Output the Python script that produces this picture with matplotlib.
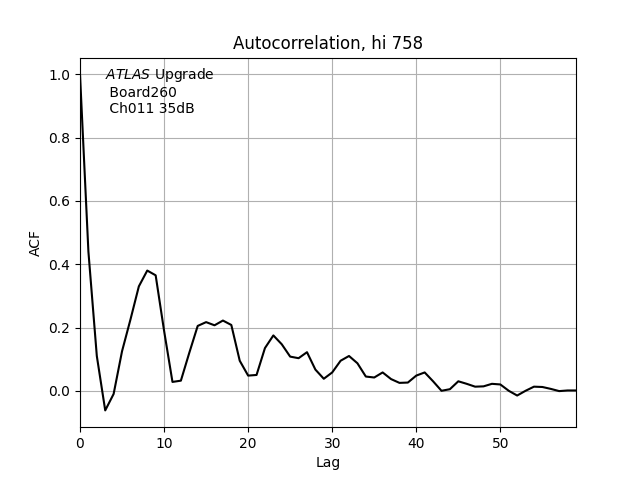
import numpy as np
from matplotlib import pyplot as plt

# ACF values, lag 0..59
acf = [1.0, 0.44, 0.11, -0.062, -0.01, 0.125, 0.225, 0.33, 0.38, 0.365,
       0.19, 0.028, 0.032, 0.12, 0.205, 0.217, 0.207, 0.222, 0.208, 0.095,
       0.048, 0.05, 0.135, 0.175, 0.147, 0.108, 0.103, 0.122, 0.067, 0.038,
       0.058, 0.095, 0.11, 0.087, 0.045, 0.042, 0.058, 0.037, 0.025, 0.026,
       0.048, 0.058, 0.03, 0.0, 0.005, 0.03, 0.022, 0.013, 0.014, 0.022,
       0.02, 0.0, -0.015, 0.0, 0.013, 0.012, 0.006, -0.001, 0.001, 0.001]
lags = np.arange(len(acf))

fig, ax = plt.subplots(figsize=(6.4, 4.8), dpi=100)
ax.plot(lags, acf, color='black')
ax.set_xlim(0, len(acf) - 1)
ax.set_xlabel('Lag')
ax.set_ylabel('ACF')
ax.set_title('Autocorrelation, hi 758')
ax.grid(True)
ax.text(0.05, 0.978, r'$\it{ATLAS}$ Upgrade' + '\n Board260\n Ch011 35dB',
        transform=ax.transAxes, va='top', ha='left')

fig.savefig('out.png')
